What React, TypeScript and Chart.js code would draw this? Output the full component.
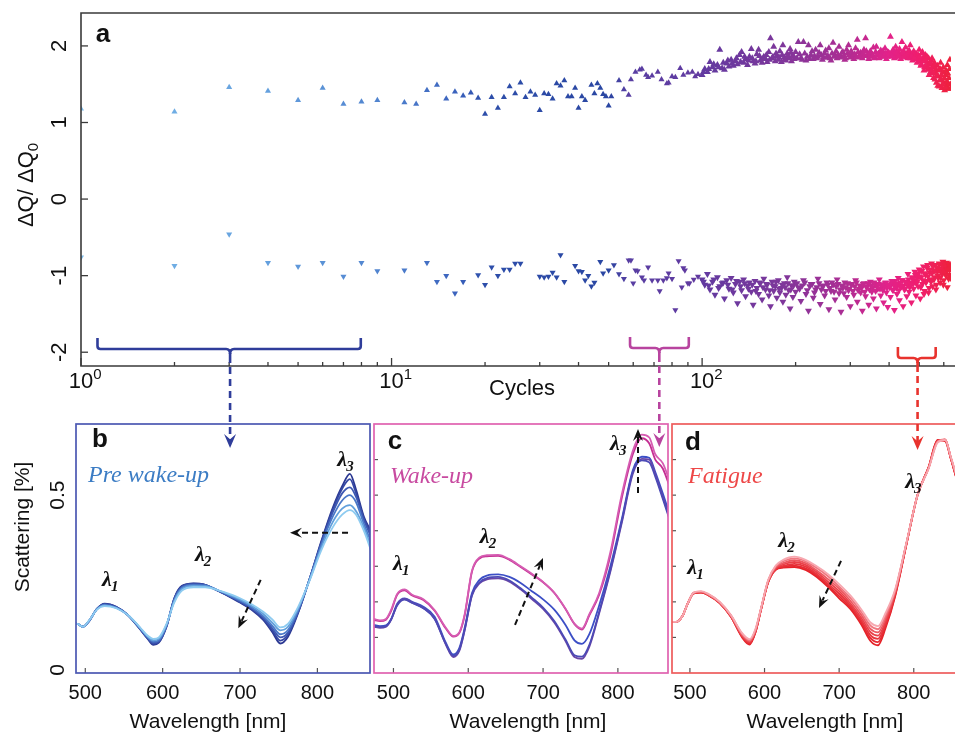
import React, { useEffect, useRef } from 'react';
import { Chart, registerables } from 'chart.js';

Chart.register(...registerables);

const SANS = '"Liberation Sans", Arial, Helvetica, sans-serif';
const SERIF = '"Liberation Serif", "Times New Roman", Times, serif';
const AXIS = '#3a3a3a';
const TEXT = '#111111';

// ---------------- Panel a : ΔQ/ΔQ0 versus cycles ----------------
const cycleMin = 1;
const cycleMax = 633;
const ratioMin = -2.18;
const ratioMax = 2.43;
const ratioTicks = [2, 1, 0, -1, -2];
const ratioTickLabels = ['2', '1', '0', '-1', '-2'];
const cycleMajorTicks = [1, 10, 100];
const cycleMajorExponents = ['0', '1', '2'];
const cycleMinorTicks = [2, 3, 4, 5, 6, 7, 8, 9, 20, 30, 40, 50, 60, 70, 80, 90, 200, 300, 400, 500, 600];

const upperEarly = [[1,1.18],[2,1.14],[3,1.46],[4,1.41],[5,1.29],[6,1.45],[7,1.24],[8,1.27],[9,1.29],[11,1.26],[12,1.24],[13,1.42],[14,1.49],[15,1.31],[16,1.40],[17,1.35],[18,1.39],[19,1.32],[20,1.11],[21,1.33],[22,1.19],[23,1.33],[24,1.47],[25,1.38],[26,1.52],[27,1.33],[28,1.40],[29,1.36],[30,1.16],[31,1.38],[32,1.37],[33,1.31],[34,1.51],[35,1.48],[36,1.55],[37,1.34],[38,1.34],[39,1.45],[40,1.19],[41,1.34],[42,1.29],[44,1.49],[45,1.38],[46,1.51],[47,1.45],[48,1.37],[49,1.34],[50,1.22],[51,1.34],[54,1.55],[56,1.43],[58,1.36],[59,1.56],[61,1.66],[63,1.69],[64,1.70],[66,1.62],[67,1.59],[69,1.61],[72,1.66],[74,1.56],[77,1.51],[78,1.52],[80,1.60],[82,1.59],[85,1.71],[87,1.62],[90,1.65],[93,1.66],[95,1.60],[97,1.63]];
const upperMid = [[100,1.62],[102,1.70],[104,1.66],[106,1.79],[108,1.72],[110,1.68],[112,1.75],[114,1.95],[116,1.71],[118,1.69],[120,1.77],[122,1.73],[124,1.82],[126,1.74],[128,1.80],[130,1.76],[132,1.88],[134,1.92],[136,1.78],[138,1.83],[140,1.75],[142,1.86],[144,1.96],[146,1.80],[148,1.77],[150,1.89],[152,1.95],[154,1.81],[156,1.78],[158,1.86],[160,1.83],[162,1.79],[164,1.92],[166,2.10],[168,1.84],[170,1.99],[172,1.80],[174,1.87],[176,1.82],[178,1.93],[180,1.79],[182,2.01],[184,1.85],[186,1.81],[188,1.90],[190,1.84],[192,1.96],[194,1.80],[196,1.88],[198,1.83],[200,1.92],[204,2.05],[208,1.84],[212,2.05],[216,1.81],[220,2.01],[224,1.88],[228,1.83],[232,1.95],[236,1.86],[240,2.01],[244,1.82],[248,1.90],[252,1.85],[256,1.97],[260,1.81],[264,2.04],[268,1.88],[272,1.84],[276,1.99],[280,1.86],[284,1.92],[288,1.82],[292,1.95],[296,2.01],[300,1.85],[304,1.89],[308,1.83],[312,1.97],[316,2.08],[320,1.86],[324,1.91],[328,1.84],[332,1.95],[336,2.10],[340,1.87],[344,1.83],[348,1.93],[352,1.89],[356,1.98],[360,1.85],[364,1.99],[368,1.88],[372,1.84],[376,1.94],[380,1.90],[384,1.86],[388,1.97],[392,1.83],[396,1.92],[400,1.88]];
const upperMidExtra = [[101,1.66],[105,1.70],[109,1.76],[113,1.72],[117,1.78],[121,1.81],[125,1.77],[129,1.84],[133,1.79],[137,1.86],[141,1.81],[145,1.84],[149,1.80],[153,1.87],[157,1.83],[161,1.88],[165,1.82],[169,1.86],[173,1.90],[177,1.85],[181,1.88],[185,1.83],[189,1.87],[193,1.91],[197,1.86],[202,1.84],[206,1.89],[210,1.82],[214,1.90],[218,1.86],[222,1.83],[226,1.93],[230,1.87],[234,1.84],[238,1.91],[242,1.88],[246,1.85],[250,1.94],[254,1.87],[258,1.84],[262,1.90],[266,1.86],[270,1.93],[274,1.88],[278,1.85],[282,1.91],[286,1.87],[290,1.84],[294,1.90],[298,1.88],[302,1.93],[306,1.86],[310,1.89],[314,1.85],[318,1.92],[322,1.88],[326,1.86],[330,1.90],[334,1.87],[338,1.93],[342,1.89],[346,1.86],[350,1.91],[354,1.87],[358,1.84],[362,1.92],[366,1.88],[370,1.90],[374,1.86],[378,1.89],[382,1.93],[386,1.87],[390,1.90],[394,1.86],[398,1.91],[402,1.90],[406,1.87],[410,1.92],[414,1.88],[418,1.85],[422,1.93],[426,1.88],[430,1.91],[434,1.86],[438,1.90],[442,1.87],[446,1.93],[450,1.89],[454,1.85],[458,1.91],[462,1.87],[466,1.90],[470,1.84],[474,1.89],[478,1.86],[482,1.90],[486,1.83],[490,1.88],[494,1.85],[498,1.80]];
const upperLate = [[404,2.12],[408,1.86],[412,1.95],[416,1.84],[420,1.99],[424,1.90],[428,1.87],[432,1.96],[436,1.83],[440,2.05],[444,1.92],[448,1.86],[452,1.98],[456,1.88],[460,1.84],[464,1.94],[468,2.01],[472,1.87],[476,1.81],[480,1.93],[484,1.85],[488,1.90],[492,1.78],[496,1.88],[500,1.95],[504,1.82],[508,1.76],[512,1.92],[516,1.85],[520,1.72],[524,1.88],[528,1.80],[532,1.69],[536,1.84],[540,1.76],[544,1.66],[548,1.81],[552,1.72],[556,1.58],[560,1.78],[564,1.65],[568,1.52],[572,1.74],[576,1.60],[580,1.47],[584,1.70],[588,1.56],[592,1.45],[596,1.66],[600,1.52],[604,1.42],[608,1.62],[612,1.48],[616,1.75],[620,1.44],[624,1.58],[628,1.82],[632,1.50]];
const upperLateExtra = [[502,1.86],[506,1.74],[510,1.90],[514,1.80],[518,1.68],[522,1.83],[526,1.75],[530,1.86],[534,1.72],[538,1.62],[542,1.79],[546,1.70],[550,1.84],[554,1.64],[558,1.75],[562,1.56],[566,1.70],[570,1.62],[574,1.48],[578,1.68],[582,1.55],[586,1.78],[590,1.62],[594,1.50],[598,1.72],[602,1.58],[606,1.46],[610,1.68],[614,1.54],[618,1.64],[622,1.50],[626,1.70],[630,1.44]];

const lowerEarly = [[1,-0.76],[2,-0.87],[3,-0.46],[4,-0.83],[5,-0.88],[6,-0.83],[7,-1.01],[8,-0.83],[9,-0.94],[11,-0.93],[13,-0.83],[14,-1.08],[15,-1.00],[16,-1.23],[17,-1.08],[19,-0.99],[20,-1.12],[21,-0.89],[22,-1.00],[23,-0.92],[24,-0.92],[25,-0.84],[26,-0.84],[30,-1.01],[31,-1.02],[32,-1.01],[33,-0.96],[34,-1.02],[35,-0.73],[36,-1.08],[39,-0.87],[40,-0.94],[41,-0.95],[42,-1.06],[43,-1.00],[44,-1.14],[45,-1.09],[47,-0.82],[48,-0.97],[50,-0.93],[52,-0.86],[54,-0.98],[56,-1.04],[58,-0.80],[59,-0.80],[60,-1.10],[61,-0.93],[62,-0.94],[64,-1.02],[65,-1.06],[67,-0.89],[69,-1.06],[72,-1.06],[73,-1.20],[75,-1.06],[77,-1.03],[78,-0.97],[80,-1.04],[82,-1.45],[84,-0.81],[86,-1.15],[87,-0.90],[88,-0.93],[90,-1.10],[91,-1.10],[94,-1.05],[97,-1.01]];
const lowerMid = [[100,-1.05],[102,-1.12],[104,-0.98],[106,-1.18],[108,-1.08],[110,-1.25],[112,-1.02],[114,-1.14],[116,-1.10],[118,-1.30],[120,-1.06],[122,-1.17],[124,-1.03],[126,-1.22],[128,-1.11],[130,-1.36],[132,-1.08],[134,-1.19],[136,-1.05],[138,-1.27],[140,-1.13],[142,-1.09],[144,-1.21],[146,-1.38],[148,-1.07],[150,-1.16],[152,-1.24],[154,-1.10],[156,-1.31],[158,-1.04],[160,-1.18],[162,-1.12],[164,-1.26],[166,-1.40],[168,-1.08],[170,-1.20],[172,-1.14],[174,-1.29],[176,-1.06],[178,-1.22],[180,-1.16],[182,-1.34],[184,-1.10],[186,-1.25],[188,-1.02],[190,-1.19],[192,-1.43],[194,-1.13],[196,-1.28],[198,-1.08],[200,-1.21],[204,-1.15],[208,-1.33],[212,-1.06],[216,-1.24],[220,-1.46],[224,-1.11],[228,-1.29],[232,-1.18],[236,-1.04],[240,-1.37],[244,-1.14],[248,-1.26],[252,-1.09],[256,-1.44],[260,-1.20],[264,-1.12],[268,-1.31],[272,-1.05],[276,-1.23],[280,-1.47],[284,-1.16],[288,-1.09],[292,-1.28],[296,-1.19],[300,-1.40],[304,-1.11],[308,-1.25],[312,-1.06],[316,-1.34],[320,-1.17],[324,-1.22],[328,-1.46],[332,-1.10],[336,-1.27],[340,-1.14],[344,-1.38],[348,-1.08],[352,-1.21],[356,-1.30],[360,-1.12],[364,-1.43],[368,-1.17],[372,-1.05],[376,-1.26],[380,-1.15],[384,-1.35],[388,-1.10],[392,-1.22],[396,-1.41],[400,-1.13]];
const lowerMidExtra = [[101,-1.08],[105,-1.13],[109,-1.05],[113,-1.16],[117,-1.09],[121,-1.12],[125,-1.18],[129,-1.07],[133,-1.14],[137,-1.10],[141,-1.17],[145,-1.12],[149,-1.20],[153,-1.09],[157,-1.15],[161,-1.11],[165,-1.19],[169,-1.13],[173,-1.08],[177,-1.17],[181,-1.12],[185,-1.15],[189,-1.10],[193,-1.18],[197,-1.13],[202,-1.10],[206,-1.17],[210,-1.13],[214,-1.09],[218,-1.19],[222,-1.14],[226,-1.11],[230,-1.22],[234,-1.15],[238,-1.10],[242,-1.18],[246,-1.13],[250,-1.20],[254,-1.12],[258,-1.16],[262,-1.09],[266,-1.21],[270,-1.14],[274,-1.11],[278,-1.18],[282,-1.13],[286,-1.23],[290,-1.15],[294,-1.10],[298,-1.17],[302,-1.12],[306,-1.20],[310,-1.14],[314,-1.09],[318,-1.19],[322,-1.13],[326,-1.16],[330,-1.11],[334,-1.21],[338,-1.15],[342,-1.10],[346,-1.18],[350,-1.13],[354,-1.16],[358,-1.09],[362,-1.20],[366,-1.14],[370,-1.11],[374,-1.17],[378,-1.12],[382,-1.19],[386,-1.14],[390,-1.09],[394,-1.16],[398,-1.12],[402,-1.15],[406,-1.10],[410,-1.18],[414,-1.12],[418,-1.07],[422,-1.16],[426,-1.11],[430,-1.19],[434,-1.09],[438,-1.14],[442,-1.06],[446,-1.13],[450,-1.17],[454,-1.08],[458,-1.12],[462,-1.05],[466,-1.15],[470,-1.09],[474,-1.02],[478,-1.11],[482,-1.06],[486,-0.99],[490,-1.10],[494,-1.03],[498,-0.97]];
const lowerLate = [[404,-1.28],[408,-1.07],[412,-1.19],[416,-1.45],[420,-1.11],[424,-1.24],[428,-1.03],[432,-1.32],[436,-1.15],[440,-1.06],[444,-1.40],[448,-1.18],[452,-1.09],[456,-1.27],[460,-0.98],[464,-1.21],[468,-1.12],[472,-1.35],[476,-1.04],[480,-1.17],[484,-0.95],[488,-1.26],[492,-1.08],[496,-1.14],[500,-0.92],[504,-1.30],[508,-1.02],[512,-1.11],[516,-0.88],[520,-1.20],[524,-0.99],[528,-1.07],[532,-0.86],[536,-1.22],[540,-0.96],[544,-1.05],[548,-0.84],[552,-1.14],[556,-0.93],[560,-1.02],[564,-0.86],[568,-1.12],[572,-0.95],[576,-1.03],[580,-0.84],[584,-1.09],[588,-0.91],[592,-0.98],[596,-0.82],[600,-1.06],[604,-0.90],[608,-0.97],[612,-0.83],[616,-1.15],[620,-0.88],[624,-0.99],[628,-0.85],[632,-1.03]];
const lowerLateExtra = [[502,-1.01],[506,-1.15],[510,-0.94],[514,-1.06],[518,-1.24],[522,-0.97],[526,-1.09],[530,-0.90],[534,-1.01],[538,-1.16],[542,-0.92],[546,-1.08],[550,-0.97],[554,-0.88],[558,-1.05],[562,-0.94],[566,-1.18],[570,-0.89],[574,-1.00],[578,-0.92],[582,-0.85],[586,-1.02],[590,-0.94],[594,-0.87],[598,-1.12],[602,-0.95],[606,-0.86],[610,-1.00],[614,-0.92],[618,-0.84],[622,-1.04],[626,-0.93],[630,-0.88]];

// cycle ranges marked with brackets (cycles), and where the arrows land (page px)
const bracketRanges = [
  { from: 1.13, to: 7.96, mid: 3.02, color: '#2f3d9a', tipY: 338, barY: 349, arrowTipY: 448 },
  { from: 58.6, to: 90.6, mid: 72.8, color: '#b8449f', tipY: 337, barY: 348, arrowTipY: 447 },
  { from: 427, to: 565, mid: 494, color: '#e8332e', tipY: 347, barY: 358, arrowTipY: 450 },
];

// ---------------- Panels b, c, d : scattering spectra ----------------
const wavelengths = [474, 482, 490, 497, 505, 515, 525, 540, 555, 570, 580, 588, 595, 605, 615, 625, 640, 655, 670, 685, 700, 715, 730, 742, 752, 762, 775, 790, 805, 820, 832, 842, 850, 860, 870];
const wavelengthTicks = [500, 600, 700, 800];
const scatteringMin = 0;
const scatteringMax = 0.7;
const scatteringTicks = [0.5, 0];
const scatteringTickLabels = ['0.5', '0'];
const scatteringMinorTicks = [0.1, 0.2, 0.3, 0.4, 0.5, 0.6];

const preWakeUpCurves = [
  [0.14,0.14,0.138,0.13,0.148,0.178,0.188,0.182,0.163,0.13,0.106,0.096,0.1,0.138,0.198,0.232,0.241,0.241,0.234,0.223,0.21,0.193,0.172,0.15,0.128,0.138,0.185,0.26,0.345,0.41,0.445,0.458,0.445,0.4,0.34],
  [0.14,0.14,0.138,0.13,0.148,0.179,0.19,0.183,0.163,0.129,0.104,0.092,0.096,0.136,0.202,0.236,0.245,0.244,0.234,0.221,0.207,0.189,0.166,0.141,0.12,0.13,0.18,0.262,0.352,0.425,0.462,0.472,0.455,0.41,0.35],
  [0.14,0.14,0.138,0.13,0.147,0.179,0.191,0.184,0.163,0.128,0.102,0.088,0.092,0.134,0.205,0.24,0.248,0.246,0.234,0.219,0.204,0.185,0.16,0.132,0.109,0.121,0.176,0.264,0.36,0.44,0.485,0.5,0.48,0.42,0.365],
  [0.14,0.14,0.138,0.13,0.147,0.18,0.193,0.185,0.163,0.127,0.1,0.085,0.089,0.132,0.207,0.242,0.25,0.247,0.233,0.218,0.201,0.182,0.156,0.125,0.1,0.114,0.172,0.265,0.364,0.452,0.505,0.522,0.495,0.43,0.38],
  [0.14,0.14,0.138,0.13,0.146,0.18,0.194,0.186,0.163,0.126,0.099,0.082,0.087,0.131,0.209,0.244,0.251,0.248,0.233,0.217,0.199,0.18,0.152,0.119,0.091,0.108,0.17,0.265,0.367,0.46,0.518,0.545,0.505,0.435,0.39],
  [0.14,0.14,0.138,0.13,0.146,0.18,0.195,0.186,0.163,0.125,0.098,0.079,0.085,0.13,0.21,0.245,0.252,0.248,0.233,0.216,0.198,0.178,0.149,0.114,0.083,0.102,0.168,0.265,0.37,0.465,0.525,0.56,0.515,0.44,0.395],
];
const preWakeUpColors = ['#8ecbf0', '#62a0dc', '#4a78c8', '#3d58b2', '#3447a3', '#2b3892'];

const wakeUpCurves = [
  [0.132,0.129,0.131,0.151,0.19,0.206,0.197,0.182,0.152,0.082,0.048,0.065,0.12,0.22,0.255,0.267,0.27,0.26,0.238,0.212,0.184,0.146,0.094,0.05,0.046,0.08,0.172,0.29,0.425,0.565,0.598,0.592,0.552,0.49,0.425],
  [0.13,0.127,0.13,0.15,0.192,0.208,0.198,0.183,0.153,0.08,0.045,0.062,0.118,0.218,0.252,0.263,0.266,0.257,0.235,0.208,0.18,0.142,0.09,0.045,0.04,0.075,0.168,0.285,0.42,0.56,0.602,0.6,0.558,0.495,0.43],
  [0.135,0.132,0.134,0.152,0.195,0.21,0.2,0.186,0.158,0.085,0.052,0.07,0.125,0.225,0.262,0.274,0.277,0.27,0.253,0.23,0.207,0.178,0.135,0.092,0.082,0.11,0.19,0.3,0.43,0.57,0.608,0.605,0.565,0.505,0.44],
  [0.152,0.148,0.152,0.178,0.222,0.235,0.22,0.207,0.177,0.127,0.104,0.114,0.163,0.288,0.325,0.331,0.332,0.32,0.3,0.279,0.256,0.226,0.181,0.139,0.125,0.166,0.225,0.34,0.5,0.625,0.67,0.662,0.615,0.59,0.535],
  [0.149,0.146,0.15,0.175,0.22,0.232,0.218,0.205,0.175,0.125,0.102,0.112,0.16,0.285,0.322,0.328,0.329,0.318,0.298,0.277,0.255,0.225,0.18,0.137,0.122,0.163,0.22,0.33,0.49,0.615,0.66,0.645,0.6,0.575,0.52],
];
const wakeUpColors = ['#4c4ab6', '#6a46a6', '#3c4fc6', '#d65cb2', '#c42e92'];

const fatigueCurves = [
  [0.144,0.144,0.16,0.195,0.226,0.23,0.222,0.2,0.163,0.112,0.095,0.125,0.18,0.262,0.302,0.318,0.327,0.318,0.3,0.278,0.25,0.218,0.178,0.142,0.132,0.168,0.235,0.365,0.5,0.575,0.648,0.655,0.605,0.54,0.5],
  [0.144,0.144,0.16,0.195,0.226,0.229,0.221,0.199,0.162,0.11,0.092,0.122,0.179,0.261,0.3,0.314,0.322,0.314,0.295,0.272,0.243,0.211,0.17,0.133,0.123,0.16,0.231,0.364,0.5,0.576,0.65,0.656,0.604,0.538,0.5],
  [0.144,0.144,0.16,0.195,0.225,0.228,0.22,0.198,0.161,0.107,0.09,0.12,0.178,0.259,0.297,0.309,0.317,0.309,0.288,0.264,0.237,0.203,0.162,0.124,0.114,0.152,0.228,0.363,0.5,0.577,0.651,0.657,0.603,0.536,0.5],
  [0.144,0.144,0.16,0.195,0.225,0.228,0.22,0.198,0.16,0.105,0.087,0.118,0.177,0.258,0.295,0.305,0.312,0.304,0.283,0.257,0.23,0.196,0.154,0.115,0.105,0.144,0.224,0.362,0.5,0.578,0.652,0.656,0.602,0.534,0.5],
  [0.144,0.144,0.16,0.195,0.224,0.227,0.219,0.197,0.159,0.103,0.085,0.117,0.176,0.257,0.293,0.301,0.307,0.299,0.278,0.251,0.223,0.19,0.147,0.106,0.096,0.137,0.221,0.361,0.5,0.578,0.653,0.655,0.601,0.532,0.5],
  [0.144,0.144,0.16,0.195,0.224,0.227,0.219,0.197,0.158,0.102,0.082,0.116,0.176,0.256,0.291,0.298,0.302,0.294,0.274,0.246,0.216,0.185,0.141,0.098,0.087,0.131,0.218,0.36,0.5,0.579,0.654,0.654,0.6,0.531,0.5],
  [0.144,0.144,0.16,0.195,0.224,0.226,0.218,0.196,0.158,0.1,0.08,0.115,0.175,0.255,0.29,0.296,0.298,0.29,0.27,0.242,0.21,0.18,0.135,0.09,0.078,0.125,0.215,0.36,0.5,0.58,0.655,0.652,0.6,0.53,0.5],
];
const fatigueColors = ['#f7a8b0', '#f07880', '#ec5860', '#ea4048', '#e8343c', '#e62a32', '#e52228'];

// peak labels [nm, scattering, subscript]
const peakLabelsB = [[528, 0.261, '1'], [648, 0.332, '2'], [832, 0.599, '3']];
const peakLabelsC = [[506, 0.306, '1'], [622, 0.382, '2'], [796, 0.644, '3']];
const peakLabelsD = [[503, 0.295, '1'], [625, 0.371, '2'], [795, 0.537, '3']];
// trend arrows [nm start, value start, nm tip, value tip]
const trendArrowsB = [[839.6, 0.394, 764.6, 0.394], [726.7, 0.262, 697.8, 0.126]];
const trendArrowsC = [[662.5, 0.135, 699.9, 0.323], [826.9, 0.506, 826.9, 0.686]];
const trendArrowsD = [[702.5, 0.315, 673, 0.183]];

// ---------------- helpers ----------------
const colorStops: [number, number[]][] = [
  [0, [122, 186, 234]],
  [0.6, [100, 160, 222]],
  [1.0, [78, 128, 205]],
  [1.2, [60, 100, 190]],
  [1.3, [45, 78, 170]],
  [1.7, [42, 70, 162]],
  [1.76, [88, 62, 162]],
  [2.0, [98, 58, 160]],
  [2.25, [125, 55, 155]],
  [2.45, [170, 46, 148]],
  [2.6, [226, 34, 138]],
  [2.7, [240, 30, 110]],
  [2.81, [238, 34, 56]],
];

function colorAt(cycles: number) {
  const t = Math.log10(Math.max(cycles, 1));
  for (let i = 1; i < colorStops.length; i++) {
    const [t1, c1] = colorStops[i];
    const [t0, c0] = colorStops[i - 1];
    if (t <= t1) {
      const f = (t - t0) / (t1 - t0);
      const c = c0.map((v, k) => Math.round(v + (c1[k] - v) * f));
      return `rgb(${c[0]},${c[1]},${c[2]})`;
    }
  }
  const c = colorStops[colorStops.length - 1][1];
  return `rgb(${c[0]},${c[1]},${c[2]})`;
}

function stealthHead(ctx: any, x: number, y: number, ang: number, len: number, half: number) {
  const bx = x - len * Math.cos(ang);
  const by = y - len * Math.sin(ang);
  const nx = -Math.sin(ang);
  const ny = Math.cos(ang);
  ctx.beginPath();
  ctx.moveTo(x, y);
  ctx.lineTo(bx + nx * half, by + ny * half);
  ctx.lineTo(x - len * 0.62 * Math.cos(ang), y - len * 0.62 * Math.sin(ang));
  ctx.lineTo(bx - nx * half, by - ny * half);
  ctx.closePath();
  ctx.fill();
}

function toPoints(pairs: number[][]) {
  return pairs.map(([x, y]) => ({ x, y }));
}

// ---------------- panel a plugin ----------------
const topDecor = {
  id: 'topDecor',
  afterDraw(chart: any) {
    const { ctx, chartArea: a } = chart;
    const xs = chart.scales.x;
    const ys = chart.scales.y;
    ctx.save();
    ctx.strokeStyle = AXIS;
    ctx.lineWidth = 1.6;
    ctx.beginPath();
    ctx.moveTo(a.right + 5, a.top);
    ctx.lineTo(a.left, a.top);
    ctx.lineTo(a.left, a.bottom);
    ctx.lineTo(a.right + 5, a.bottom);
    ctx.stroke();

    ctx.lineWidth = 1.3;
    ratioTicks.forEach((v) => {
      const py = ys.getPixelForValue(v);
      ctx.beginPath();
      ctx.moveTo(a.left, py);
      ctx.lineTo(a.left + 7, py);
      ctx.stroke();
    });
    cycleMinorTicks.forEach((v) => {
      const px = xs.getPixelForValue(v);
      ctx.beginPath();
      ctx.moveTo(px, a.bottom);
      ctx.lineTo(px, a.bottom - 4);
      ctx.stroke();
    });
    cycleMajorTicks.forEach((v) => {
      const px = xs.getPixelForValue(v);
      ctx.beginPath();
      ctx.moveTo(px, a.bottom);
      ctx.lineTo(px, a.bottom - 8);
      ctx.stroke();
    });

    ctx.fillStyle = TEXT;
    ctx.textAlign = 'center';
    ctx.textBaseline = 'middle';
    ctx.font = `22px ${SANS}`;
    ratioTicks.forEach((v, i) => {
      const py = ys.getPixelForValue(v);
      ctx.save();
      ctx.translate(a.left - 21, py);
      ctx.rotate(-Math.PI / 2);
      ctx.fillText(ratioTickLabels[i], 0, 0);
      ctx.restore();
    });

    cycleMajorTicks.forEach((v, i) => {
      const px = xs.getPixelForValue(v);
      ctx.font = `22px ${SANS}`;
      ctx.textAlign = 'center';
      const w = ctx.measureText('10').width;
      ctx.fillText('10', px, a.bottom + 16);
      ctx.font = `15px ${SANS}`;
      ctx.textAlign = 'left';
      ctx.fillText(cycleMajorExponents[i], px + w / 2, a.bottom + 9);
    });

    ctx.font = `22px ${SANS}`;
    ctx.textAlign = 'center';
    ctx.fillText('Cycles', 522, a.bottom + 23);

    // y title ΔQ/ ΔQ0
    ctx.save();
    ctx.translate(27, 185);
    ctx.rotate(-Math.PI / 2);
    ctx.font = `22px ${SANS}`;
    const main = 'ΔQ/ ΔQ';
    const wm = ctx.measureText(main).width;
    ctx.font = `15px ${SANS}`;
    const wsub = ctx.measureText('0').width;
    const start = -(wm + wsub) / 2;
    ctx.textAlign = 'left';
    ctx.font = `22px ${SANS}`;
    ctx.fillText(main, start, 0);
    ctx.font = `15px ${SANS}`;
    ctx.fillText('0', start + wm, 7);
    ctx.restore();

    ctx.font = `bold 26px ${SANS}`;
    ctx.textAlign = 'center';
    ctx.fillText('a', 103, 35);

    // brackets and connectors
    bracketRanges.forEach((b) => {
      const x1 = xs.getPixelForValue(b.from);
      const x2 = xs.getPixelForValue(b.to);
      const xm = xs.getPixelForValue(b.mid);
      ctx.strokeStyle = b.color;
      ctx.fillStyle = b.color;
      ctx.lineWidth = 2.6;
      ctx.setLineDash([]);
      ctx.beginPath();
      ctx.moveTo(x1, b.tipY);
      ctx.lineTo(x1, b.barY - 3);
      ctx.quadraticCurveTo(x1, b.barY, x1 + 3, b.barY);
      ctx.lineTo(xm - 4, b.barY);
      ctx.quadraticCurveTo(xm, b.barY, xm, b.barY + 5);
      ctx.quadraticCurveTo(xm, b.barY, xm + 4, b.barY);
      ctx.lineTo(x2 - 3, b.barY);
      ctx.quadraticCurveTo(x2, b.barY, x2, b.barY - 3);
      ctx.lineTo(x2, b.tipY);
      ctx.stroke();
      ctx.beginPath();
      ctx.moveTo(xm, b.barY + 4);
      ctx.lineTo(xm, b.barY + 14);
      ctx.stroke();
      ctx.setLineDash([7, 5]);
      ctx.beginPath();
      ctx.moveTo(xm, b.barY + 18);
      ctx.lineTo(xm, b.arrowTipY - 8);
      ctx.stroke();
      ctx.setLineDash([]);
      stealthHead(ctx, xm, b.arrowTipY, Math.PI / 2, 14, 6);
    });
    ctx.restore();
  },
};

// ---------------- panel b/c/d plugin ----------------
function makePanelPlugin(p: any) {
  return {
    id: 'panel_' + p.letter,
    afterDraw(chart: any) {
      const { ctx, chartArea: a } = chart;
      const xs = chart.scales.x;
      const ys = chart.scales.y;
      ctx.save();
      ctx.strokeStyle = '#555';
      ctx.lineWidth = 1.2;
      wavelengthTicks.forEach((v) => {
        const px = xs.getPixelForValue(v);
        ctx.beginPath();
        ctx.moveTo(px, a.bottom);
        ctx.lineTo(px, a.bottom - 5);
        ctx.stroke();
      });
      if (p.leftTicks) {
        scatteringMinorTicks.forEach((v) => {
          const py = ys.getPixelForValue(v);
          ctx.beginPath();
          ctx.moveTo(a.left, py);
          ctx.lineTo(a.left + 4, py);
          ctx.stroke();
        });
      }
      ctx.strokeStyle = p.border;
      ctx.lineWidth = 1.7;
      ctx.strokeRect(a.left, a.top, a.right - a.left, a.bottom - a.top);

      ctx.fillStyle = TEXT;
      ctx.textAlign = 'center';
      ctx.textBaseline = 'middle';
      ctx.font = `20px ${SANS}`;
      wavelengthTicks.forEach((v) => {
        ctx.fillText(String(v), xs.getPixelForValue(v), a.bottom + 20);
      });
      ctx.font = `21px ${SANS}`;
      ctx.fillText('Wavelength [nm]', a.left + p.titleDx, a.bottom + 49);

      if (p.yLabels) {
        ctx.font = `21px ${SANS}`;
        scatteringTicks.forEach((v, i) => {
          const py = ys.getPixelForValue(v) - (v === 0 ? 3 : 0);
          ctx.save();
          ctx.translate(a.left - 18, py);
          ctx.rotate(-Math.PI / 2);
          ctx.fillText(scatteringTickLabels[i], 0, 0);
          ctx.restore();
        });
        ctx.save();
        ctx.translate(23, 127);
        ctx.rotate(-Math.PI / 2);
        ctx.fillText('Scattering [%]', 0, 0);
        ctx.restore();
      }

      ctx.font = `bold 26px ${SANS}`;
      ctx.fillText(p.letter, a.left + p.letterPos[0], a.top + p.letterPos[1]);

      ctx.font = `italic 24px ${SERIF}`;
      ctx.fillStyle = p.tagColor;
      ctx.textAlign = 'left';
      ctx.fillText(p.tag, a.left + p.tagPos[0], a.top + p.tagPos[1]);

      ctx.fillStyle = TEXT;
      p.peaks.forEach(([nm, v, sub]: any) => {
        const px = xs.getPixelForValue(nm);
        const py = ys.getPixelForValue(v);
        ctx.font = `italic bold 22px ${SERIF}`;
        ctx.textAlign = 'center';
        ctx.fillText('λ', px, py);
        ctx.font = `italic bold 15px ${SERIF}`;
        ctx.textAlign = 'left';
        ctx.fillText(sub, px + 4, py + 7);
      });

      ctx.strokeStyle = '#111';
      ctx.fillStyle = '#111';
      ctx.lineWidth = 2;
      p.arrows.forEach(([n1, v1, n2, v2]: any) => {
        const x1 = xs.getPixelForValue(n1);
        const y1 = ys.getPixelForValue(v1);
        const x2 = xs.getPixelForValue(n2);
        const y2 = ys.getPixelForValue(v2);
        const ang = Math.atan2(y2 - y1, x2 - x1);
        ctx.setLineDash([6, 4]);
        ctx.beginPath();
        ctx.moveTo(x1, y1);
        ctx.lineTo(x2 - 8 * Math.cos(ang), y2 - 8 * Math.sin(ang));
        ctx.stroke();
        ctx.setLineDash([]);
        stealthHead(ctx, x2, y2, ang, 12, 5);
      });
      ctx.restore();
    },
  };
}

const panels = [
  { letter: 'b', xMin: 488, xMax: 868, padding: { left: 76, top: 24, right: 585, bottom: 61 }, border: '#4b58b2', tag: 'Pre wake-up', tagColor: '#3b7cc4', letterPos: [24, 16], tagPos: [12, 52], titleDx: 132, yLabels: true, leftTicks: false, curves: preWakeUpCurves, colors: preWakeUpColors, peaks: peakLabelsB, arrows: trendArrowsB },
  { letter: 'c', xMin: 474, xMax: 867, padding: { left: 374, top: 24, right: 287, bottom: 61 }, border: '#e062b0', tag: 'Wake-up', tagColor: '#c84aa0', letterPos: [21, 18], tagPos: [16, 53], titleDx: 154, yLabels: false, leftTicks: true, curves: wakeUpCurves, colors: wakeUpColors, peaks: peakLabelsC, arrows: trendArrowsC },
  { letter: 'd', xMin: 476, xMax: 870, padding: { left: 672, top: 24, right: 4, bottom: 61 }, border: '#ee5c5c', tag: 'Fatigue', tagColor: '#ee4848', letterPos: [21, 19], tagPos: [16, 53], titleDx: 153, yLabels: false, leftTicks: true, curves: fatigueCurves, colors: fatigueColors, peaks: peakLabelsD, arrows: trendArrowsD },
];

function panelConfig(p: any): any {
  return {
    type: 'line',
    data: {
      datasets: p.curves.map((vals: number[], i: number) => ({
        data: wavelengths.map((w, j) => ({ x: w, y: vals[j] })),
        borderColor: p.colors[i],
        borderWidth: 1.8,
        pointRadius: 0,
        fill: false,
        cubicInterpolationMode: 'monotone',
      })),
    },
    options: {
      responsive: false,
      animation: false,
      devicePixelRatio: 1,
      events: [],
      layout: { padding: p.padding },
      scales: {
        x: { type: 'linear', min: p.xMin, max: p.xMax, display: false },
        y: { type: 'linear', min: scatteringMin, max: scatteringMax, display: false },
      },
      plugins: { legend: { display: false }, tooltip: { enabled: false } },
    },
    plugins: [makePanelPlugin(p)],
  };
}

function topConfig(): any {
  const upper = [...upperEarly, ...upperMid, ...upperMidExtra, ...upperLate, ...upperLateExtra];
  const lower = [...lowerEarly, ...lowerMid, ...lowerMidExtra, ...lowerLate, ...lowerLateExtra];
  const common = {
    pointStyle: 'triangle',
    pointRadius: (c: any) => (c.raw && c.raw.x >= 100 ? 4 : 3.5),
    pointBorderWidth: 0,
    pointBackgroundColor: (c: any) => colorAt(c.raw ? c.raw.x : 1),
    showLine: false,
  };
  return {
    type: 'scatter',
    data: {
      datasets: [
        { ...common, data: toPoints(upper), pointRotation: 0 },
        { ...common, data: toPoints(lower), pointRotation: 180 },
      ],
    },
    options: {
      responsive: false,
      animation: false,
      devicePixelRatio: 1,
      events: [],
      layout: { padding: { left: 81, top: 13, right: 0, bottom: 368 } },
      scales: {
        x: { type: 'logarithmic', min: cycleMin, max: cycleMax, display: false },
        y: { type: 'linear', min: ratioMin, max: ratioMax, display: false },
      },
      plugins: { legend: { display: false }, tooltip: { enabled: false } },
    },
    plugins: [topDecor],
  };
}

export default function App() {
  const aRef = useRef<HTMLCanvasElement | null>(null);
  const bRef = useRef<HTMLCanvasElement | null>(null);
  const cRef = useRef<HTMLCanvasElement | null>(null);
  const dRef = useRef<HTMLCanvasElement | null>(null);

  useEffect(() => {
    const charts: Chart[] = [];
    const refs = [bRef, cRef, dRef];
    panels.forEach((p, i) => {
      const el = refs[i].current;
      if (el) charts.push(new Chart(el, panelConfig(p)));
    });
    if (aRef.current) charts.push(new Chart(aRef.current, topConfig()));
    return () => charts.forEach((c) => c.destroy());
  }, []);

  const canvasStyle = (left: number, top: number, w: number, h: number): React.CSSProperties => ({
    position: 'absolute', left, top, width: w, height: h, display: 'block',
  });

  return (
    <div style={{ position: 'fixed', left: 0, top: 0, width: 955, height: 734, overflow: 'hidden', background: '#ffffff' }}>
      <canvas ref={bRef} width={955} height={334} style={canvasStyle(0, 400, 955, 334)} />
      <canvas ref={cRef} width={955} height={334} style={canvasStyle(0, 400, 955, 334)} />
      <canvas ref={dRef} width={970} height={334} style={canvasStyle(0, 400, 970, 334)} />
      <canvas ref={aRef} width={955} height={734} style={canvasStyle(0, 0, 955, 734)} />
    </div>
  );
}
